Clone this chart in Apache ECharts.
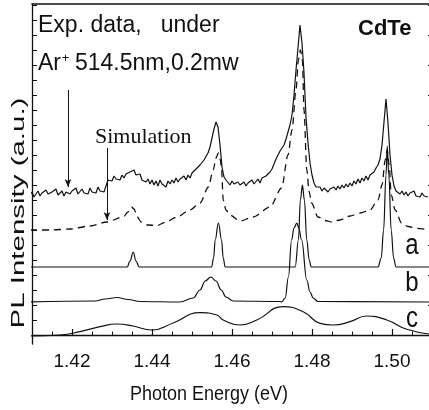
<!DOCTYPE html>
<html>
<head>
<meta charset="utf-8">
<script src="https://cdn.jsdelivr.net/npm/echarts@6/dist/echarts.min.js"></script>
<style>
html, body { margin: 0; padding: 0; background: #fff; }
#chart { width: 429px; height: 410px; }
</style>
</head>
<body>
<div id="chart"></div>
<script>
// photon energy axis (eV)
const xMajorTicks = [1.42, 1.44, 1.46, 1.48, 1.50]
const xMinorTicks = [1.41, 1.415, 1.42, 1.425, 1.43, 1.435, 1.44, 1.445, 1.45, 1.455, 1.46,
  1.465, 1.47, 1.475, 1.48, 1.485, 1.49, 1.495, 1.50, 1.505, 1.51]
// intensity axis, arbitrary units (no labels)
const yLeftTicks = [0, 15, 30, 45, 60, 75, 90, 105, 120, 135, 150, 165, 180, 195, 210, 225,
  240, 255, 270, 285, 300, 315, 330]
const yRightTicks = [0, 30, 60, 90, 120, 150, 180, 210, 240, 270, 300, 330]

// experimental spectrum, sampled every 0.0005 eV from 1.4095 eV
const expStart = 1.4095
const expStep = 0.0005
const expValues = [
  140, 143, 138, 141, 144, 139, 142, 140, 145, 141,
  139, 143, 141, 146, 140, 142, 144, 139, 143, 145,
  141, 144, 142, 147, 141, 143, 146, 142, 144, 141,
  147, 143, 145, 142, 148, 144, 146, 143, 149, 155,
  157, 154, 159, 156, 158, 155, 160, 157, 161, 159,
  163, 161, 165, 160, 158, 161, 155, 157, 153, 156,
  151, 155, 150, 154, 149, 155, 151, 153, 148, 154,
  151, 155, 152, 157, 153, 156, 154, 159, 155, 160,
  157, 162, 160, 166, 164, 170, 168, 175, 177, 182,
  188, 197, 206, 213, 208, 190, 168, 158, 155, 153,
  150, 154, 151, 149, 153, 150, 148, 153, 149, 152,
  150, 155, 151, 153, 156, 152, 157, 155, 159, 161,
  163, 166, 171, 176, 180, 184, 187, 190, 196, 203,
  210, 220, 240, 265, 287, 310, 292, 262, 218, 192,
  172, 160, 152, 148, 146, 148, 144, 147, 145, 143,
  146, 144, 148, 145, 149, 146, 150, 147, 151, 148,
  152, 149, 154, 151, 156, 152, 157, 154, 159, 155,
  160, 158, 163, 167, 170, 176, 190, 213, 236, 212,
  180, 160, 149, 144, 146, 141, 144, 140, 143, 139,
  142, 140, 144, 139, 141, 138, 142, 139, 141, 138
]

// simulation (dashed)
const simCurve = [
  [1.4095, 105], [1.4145, 105], [1.4195, 106], [1.4245, 109], [1.4287, 113], [1.4328, 118],
  [1.434, 123], [1.4349, 128], [1.4355, 126], [1.4363, 118], [1.4373, 113], [1.439, 110],
  [1.4412, 109.5], [1.4435, 113], [1.4462, 118], [1.4495, 125], [1.452, 132], [1.4541, 148],
  [1.4553, 165], [1.456, 177], [1.4566, 182], [1.4571, 175], [1.4574, 165], [1.4578, 135],
  [1.4585, 125], [1.4595, 120], [1.462, 114], [1.4653, 118], [1.4695, 128], [1.4724, 147],
  [1.474, 180], [1.475, 205], [1.476, 245], [1.4766, 275], [1.4771, 285], [1.4776, 275],
  [1.478, 225], [1.4787, 165], [1.4793, 143], [1.4799, 132], [1.4815, 118], [1.4833, 114.5],
  [1.4849, 113], [1.487, 115], [1.4895, 119], [1.492, 122], [1.4945, 125], [1.4965, 135],
  [1.4975, 150], [1.4983, 175], [1.4988, 185], [1.4993, 170], [1.4998, 140], [1.5008, 125],
  [1.5024, 112], [1.504, 108.5], [1.5062, 106.7], [1.5093, 105]
]

// fitted components
const curveA = [
  [1.4095, 68], [1.4338, 68], [1.4345, 74], [1.4353, 83], [1.436, 74], [1.4368, 68],
  [1.4549, 68], [1.4554, 77], [1.4558, 95], [1.4566, 112], [1.4574, 95], [1.4578, 77],
  [1.4583, 68], [1.4758, 68], [1.4766, 95], [1.4771, 135], [1.4776, 150], [1.4781, 135],
  [1.4787, 95], [1.4793, 75], [1.4798, 68], [1.4965, 68], [1.4973, 77], [1.4979, 105],
  [1.4985, 160], [1.4988, 189], [1.4992, 160], [1.4998, 105], [1.5004, 77], [1.501, 68],
  [1.5093, 68]
]
const curveB = [
  [1.4095, 33], [1.4258, 34], [1.4283, 36], [1.4313, 37.5], [1.434, 35.5], [1.437, 33.5],
  [1.447, 33], [1.4503, 37], [1.452, 45], [1.4533, 54], [1.4547, 58], [1.456, 54],
  [1.4573, 45], [1.4585, 38], [1.4603, 34], [1.472, 33.5], [1.4724, 33], [1.4733, 37],
  [1.4741, 58], [1.4749, 95], [1.4755, 107], [1.4762, 112], [1.4767, 107], [1.4774, 95],
  [1.4787, 55], [1.4795, 43], [1.4803, 37], [1.4815, 33.5], [1.5093, 33]
]
const curveC = [
  [1.4095, -1], [1.417, 0], [1.422, 3.3], [1.427, 8.3], [1.4312, 11], [1.4353, 9],
  [1.4399, 5], [1.4453, 12], [1.452, 22.3], [1.4562, 20], [1.4578, 15], [1.462, 10],
  [1.4662, 15], [1.4728, 28.3], [1.4778, 23.3], [1.482, 11.7], [1.4853, 10], [1.4895, 13.3],
  [1.4937, 19], [1.4987, 15], [1.5037, 5.7], [1.5093, 1]
]
const curveNames = ['a', 'b', 'c']

// arrows: [energy, top, tip]
const arrows = [[1.419, 245, 148], [1.42875, 187, 115]]

const expData = expValues.map((v, i) => [expStart + i * expStep, v])

const chart = echarts.init(document.getElementById('chart'), null, { renderer: 'canvas' })

const black = '#111'
const sans = 'Liberation Sans, Arial, sans-serif'
const xMin = 1.41, xMax = 1.51
const yMin = -9, yMax = 331

function line(name, data, extra) {
  return Object.assign({
    type: 'line', name: name, data: data, showSymbol: false, symbol: 'none',
    silent: true, animation: false,
    lineStyle: { color: black, width: 1.2 }
  }, extra)
}

function txt(x, y, text, size, extra) {
  const o = {
    type: 'text', x: x, y: y, z: 50, silent: true,
    style: { text: text, fill: black, fontSize: size, fontFamily: sans, align: 'left', verticalAlign: 'middle' }
  }
  if (extra) {
    if (extra.style) Object.assign(o.style, extra.style)
    ;['scaleX', 'scaleY', 'rotation'].forEach(k => { if (extra[k] != null) o[k] = extra[k] })
  }
  return o
}

const option = {
  backgroundColor: '#fff',
  animation: false,
  grid: { left: 32, top: 4, width: 400, height: 340, outerBoundsMode: 'none' },
  xAxis: [
    {
      type: 'value', position: 'bottom', min: xMin, max: xMax,
      axisLine: { lineStyle: { color: black, width: 1.3 } },
      axisTick: { inside: true, length: 6, customValues: xMajorTicks, lineStyle: { color: black, width: 1.2 } },
      axisLabel: { customValues: xMajorTicks, formatter: v => v.toFixed(2), fontSize: 19, fontFamily: sans, color: black, margin: 8 },
      splitLine: { show: false }
    },
    {
      type: 'value', position: 'bottom', min: xMin, max: xMax,
      axisLine: { show: false },
      axisTick: { inside: true, length: 3.5, customValues: xMinorTicks, lineStyle: { color: black } },
      axisLabel: { show: false }, splitLine: { show: false }
    },
    {
      type: 'value', position: 'top', min: xMin, max: xMax,
      axisLine: { lineStyle: { color: black, width: 1.5 } },
      axisTick: { show: false }, axisLabel: { show: false }, splitLine: { show: false }
    }
  ],
  yAxis: [
    {
      type: 'value', position: 'left', min: yMin, max: yMax,
      axisLine: { show: true, lineStyle: { color: black, width: 1.3 } },
      axisTick: { show: true, inside: true, length: 5, customValues: yLeftTicks, lineStyle: { color: black } },
      axisLabel: { show: false }, splitLine: { show: false }
    },
    {
      type: 'value', position: 'right', min: yMin, max: yMax,
      axisLine: { show: true, lineStyle: { color: black, width: 1.3 } },
      axisTick: { show: true, inside: true, length: 4, customValues: yRightTicks, lineStyle: { color: black } },
      axisLabel: { show: false }, splitLine: { show: false }
    }
  ],
  series: [
    line('exp', expData, {
      lineStyle: { color: black, width: 1.2 },
      markLine: {
        silent: true, symbol: ['none', 'arrow'], symbolSize: [5, 8], animation: false,
        lineStyle: { color: black, width: 1, type: 'solid' },
        label: { show: false },
        data: arrows.map(a => [{ coord: [a[0], a[1]] }, { coord: [a[0], a[2]] }])
      }
    }),
    line('simulation', simCurve, { smooth: 0.3, smoothMonotone: 'x', lineStyle: { color: black, width: 1.3, type: [7, 5] } }),
    line(curveNames[0], curveA, { smooth: 0.4, smoothMonotone: 'x' }),
    line(curveNames[1], curveB, { smooth: 0.4, smoothMonotone: 'x' }),
    line(curveNames[2], curveC, { smooth: 0.5 })
  ],
  graphic: [
    txt(38, 25, 'Exp. data,   under', 23, { scaleY: 1.08 }),
    txt(38, 63, 'Ar', 23, { scaleY: 1.08 }),
    txt(65.5, 58, '+', 13, { style: { align: 'center' } }),
    txt(75, 63, '514.5nm,0.2mw', 23, { scaleY: 1.08 }),
    txt(358, 29, 'CdTe', 22, { style: { fontWeight: 'bold' } }),
    txt(95, 137, 'Simulation', 22, { style: { fontFamily: 'Liberation Serif, Times New Roman, serif' } }),
    txt(412, 246, curveNames[0], 24, { scaleY: 1.2, style: { align: 'center' } }),
    txt(412, 283, curveNames[1], 24, { scaleY: 1.15, style: { align: 'center' } }),
    txt(412, 319, curveNames[2], 24, { scaleY: 1.2, style: { align: 'center' } }),
    txt(209, 394, 'Photon Energy (eV)', 18, { scaleY: 1.15, style: { align: 'center' } }),
    txt(19, 213, 'PL Intensity (a.u.)', 19, { rotation: Math.PI / 2, scaleX: 1.55, style: { align: 'center' } })
  ]
}

chart.setOption(option)
</script>
</body>
</html>
